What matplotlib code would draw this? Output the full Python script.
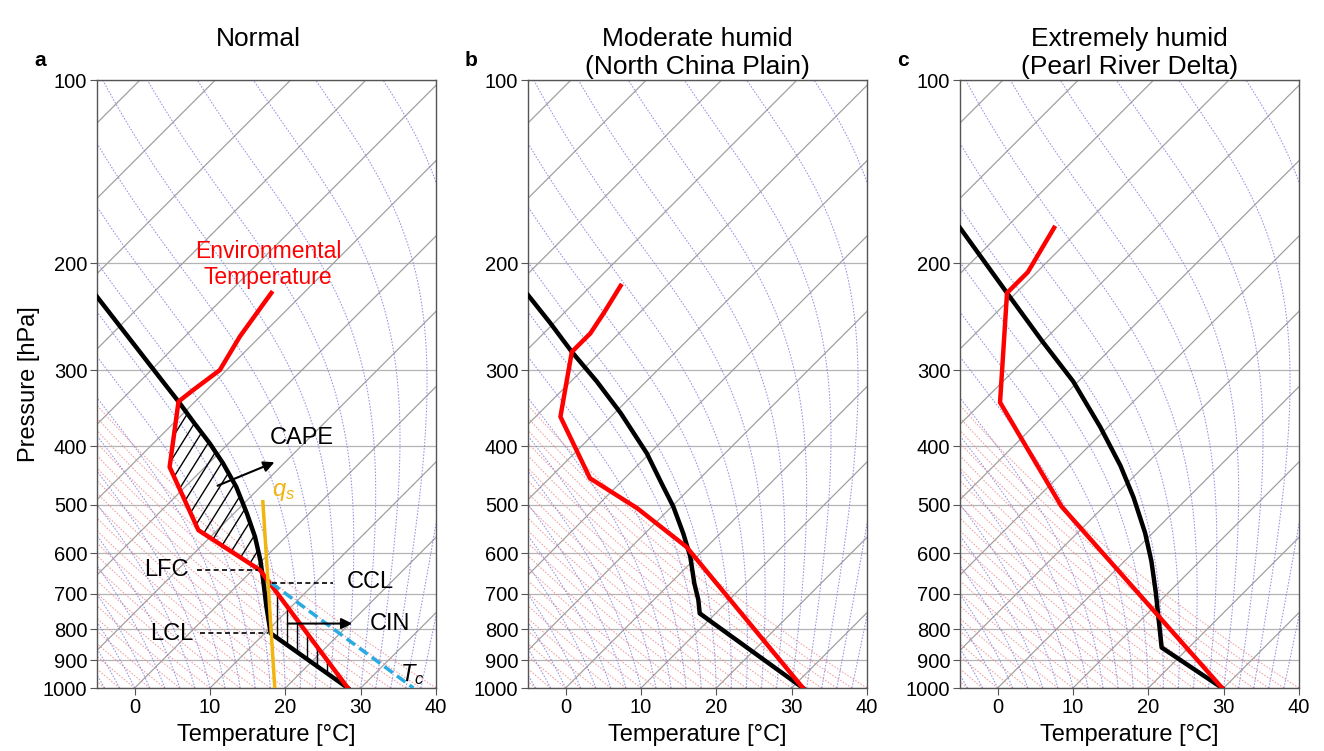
import matplotlib
matplotlib.use('Agg')
import matplotlib.pyplot as plt
import numpy as np
from matplotlib.patches import Polygon

plt.rcParams['font.family'] = ['Liberation Sans', 'DejaVu Sans']
plt.rcParams['mathtext.fontset'] = 'custom'
plt.rcParams['mathtext.it'] = 'Liberation Sans:italic'
plt.rcParams['mathtext.rm'] = 'Liberation Sans'

# soundings: pressure [hPa], temperature [degC]
a_env_p = [1000, 640, 550, 433, 338, 324, 300, 264, 224]
a_env_t = [28.3, 1.0, -12.5, -24.7, -32.2, -31.8, -30.9, -32.7, -34.3]
a_par_p = [1000, 813, 735, 664, 616, 564, 516, 467, 427, 396, 367, 338, 311, 227]
a_par_t = [28.3, 10.8, 6.7, 2.7, -0.3, -4.1, -8.3, -13.2, -18.1, -22.5, -27.2, -32.2, -37.4, -57.0]

b_env_p = [1000, 586, 506, 452, 358, 280, 261, 242, 218]
b_env_t = [31.5, -2.7, -14.4, -24.6, -36.7, -43.8, -43.8, -44.7, -46.1]
b_par_p = [1000, 754, 716, 673, 608, 557, 503, 461, 411, 353, 313, 280, 251, 226]
b_par_t = [31.5, 7.9, 5.9, 3.2, -0.9, -4.9, -9.8, -14.4, -20.4, -29.2, -36.6, -43.8, -50.5, -57.1]

c_env_p = [1000, 503, 339, 224, 207, 175]
c_env_t = [29.8, -15.6, -37.6, -51.2, -51.2, -53.6]
c_par_p = [1000, 858, 766, 698, 619, 556, 486, 431, 372, 313, 269, 224, 175]
c_par_t = [29.8, 16.4, 12.0, 8.4, 3.6, -1.0, -7.25, -13.2, -21.05, -30.7, -40.1, -51.2, -66.1]

# special levels of panel a
lfc_p = 640
lcl_p = 813
ccl_p = 672
el_p = 338
qs_p = [1000, 494]
qs_t = [18.6, -7.7]
tc_p = [672, 1000]
tc_t = [4.2, 37.0]

levels = [100, 200, 300, 400, 500, 600, 700, 800, 900, 1000]
titles = ['Normal', 'Moderate humid\n(North China Plain)', 'Extremely humid\n(Pearl River Delta)']
letters = ['a', 'b', 'c']

Rd = 287.04
cp = 1005.7
Lv = 2.501e6
eps = 0.622


def skew(t, p, k):
	return np.asarray(t, dtype=float) + k * np.log10(1000.0 / np.asarray(p, dtype=float))


def dTdp(T, p):
	es = 6.112 * np.exp(17.67 * (T - 273.15) / (T - 29.65))
	rs = eps * es / (p - es)
	return (Rd * T + Lv * rs) / (cp + Lv * Lv * rs * eps / (Rd * T * T)) / p


def moist_adiabats(t0, p):
	T = np.asarray(t0, dtype=float) + 273.15
	out = [T.copy()]
	for i in range(len(p) - 1):
		h = p[i + 1] - p[i]
		k1 = dTdp(T, p[i])
		k2 = dTdp(T + h * k1 / 2, p[i] + h / 2)
		k3 = dTdp(T + h * k2 / 2, p[i] + h / 2)
		k4 = dTdp(T + h * k3, p[i + 1])
		T = T + h / 6 * (k1 + 2 * k2 + 2 * k3 + k4)
		out.append(T.copy())
	return np.array(out) - 273.15


def draw_background(ax, k):
	p = np.logspace(3, 2, 200)
	for t0 in range(-130, 50, 10):
		ax.plot(skew(np.full_like(p, t0), p, k), p, color='#a0a0a0', lw=0.9, zorder=1)
	theta = np.arange(-100, 41, 2) + 273.15
	dry = theta[None, :] * (p[:, None] / 1000.0) ** 0.2857 - 273.15
	ax.plot(dry + k * np.log10(1000.0 / p)[:, None], p, color='#f08c8c', lw=0.75, ls=(0, (1.5, 1.5)), alpha=0.85, zorder=1)
	moist = moist_adiabats(np.arange(-40, 41, 2), p)
	ax.plot(moist + k * np.log10(1000.0 / p)[:, None], p, color='#8080e0', lw=0.75, ls=(0, (1.5, 1.5)), alpha=0.85, zorder=1)


def hatch_region(ax, xs, ps, slope, spacing, w_px, h_px):
	poly = Polygon(np.column_stack([xs, ps]), closed=True, facecolor='none', edgecolor='none')
	ax.add_patch(poly)
	if slope is None:
		for c in np.arange(0, 1, spacing / w_px):
			ln, = ax.plot([c, c], [0, 1], transform=ax.transAxes, color='black', lw=1.0, zorder=2)
			ln.set_clip_path(poly)
	else:
		dx = h_px / slope / w_px
		for c in np.arange(-dx, 1, spacing / w_px):
			ln, = ax.plot([c, c + dx], [0, 1], transform=ax.transAxes, color='black', lw=1.0, zorder=2)
			ln.set_clip_path(poly)


fig = plt.figure(figsize=(13.24, 7.51), dpi=100)
W, H = 1324.0, 751.0
lefts = [97, 528, 960]
w_px, h_px = 339.0, 608.0
k = 45.0 * h_px / w_px

data = [(a_env_p, a_env_t, a_par_p, a_par_t), (b_env_p, b_env_t, b_par_p, b_par_t), (c_env_p, c_env_t, c_par_p, c_par_t)]

axes = []
for i in range(3):
	ax = fig.add_axes([lefts[i] / W, 63 / H, w_px / W, h_px / H])
	axes.append(ax)
	ax.set_yscale('log')
	draw_background(ax, k)
	ep, et, pp, pt = data[i]
	ax.plot(skew(pt, pp, k), pp, color='black', lw=3.2, zorder=4, solid_joinstyle='round')
	ax.plot(skew(et, ep, k), ep, color='#ff0000', lw=3.2, zorder=5, solid_joinstyle='round')
	ax.set_xlim(-5, 40)
	ax.set_ylim(1000, 100)
	ax.set_yticks(levels, [str(v) for v in levels])
	ax.yaxis.set_minor_locator(matplotlib.ticker.NullLocator())
	ax.set_xticks([0, 10, 20, 30, 40])
	ax.yaxis.grid(True, color='#b4b4b4', lw=0.9, zorder=1)
	ax.set_axisbelow(True)
	ax.tick_params(labelsize=14.5, length=5, color='#555555', pad=2)
	for s in ax.spines.values():
		s.set_color('#555555')
		s.set_linewidth(1.0)
	ax.set_xlabel('Temperature [°C]', fontsize=17, labelpad=5)
	cx = (lefts[i] + w_px / 2) / W
	fig.text(cx - (8 / W if i == 0 else 0), 1 - 27 / H, titles[i], ha='center', va='top', fontsize=19, linespacing=1.2)
	fig.text((lefts[i] - 57) / W, 1 - 60 / H, letters[i], ha='center', va='center', fontsize=15, fontweight='bold')

axes[0].set_ylabel('Pressure [hPa]', fontsize=17, labelpad=2)

# panel a annotations
ax = axes[0]
par_at = lambda p: np.interp(np.log(p), np.log(a_par_p)[::-1], np.asarray(a_par_t)[::-1])
env_at = lambda p: np.interp(np.log(p), np.log(a_env_p)[::-1], np.asarray(a_env_t)[::-1])

cape_env = [p for p in a_env_p if el_p <= p <= lfc_p]
cape_par = [lfc_p] + [p for p in a_par_p if el_p <= p < lfc_p]
cape_x = list(skew([env_at(p) for p in cape_env], cape_env, k)) + list(skew([par_at(p) for p in cape_par[::-1]], cape_par[::-1], k))
cape_y = cape_env + cape_par[::-1]
hatch_region(ax, cape_x, cape_y, 1.6, 13.0, w_px, h_px)

cin_env = [1000, lfc_p]
cin_par = [p for p in a_par_p if p > lfc_p]
cin_x = list(skew([env_at(p) for p in cin_env], cin_env, k)) + list(skew([par_at(p) for p in cin_par[::-1]], cin_par[::-1], k))
cin_y = cin_env + cin_par[::-1]
hatch_region(ax, cin_x, cin_y, None, 10.0, w_px, h_px)

ax.plot(skew(qs_t, qs_p, k), qs_p, color='#f2b50f', lw=2.5, zorder=6)
ax.plot(skew(tc_t, tc_p, k), tc_p, color='#29abe2', lw=2.5, ls=(0, (3, 1.5)), zorder=6)

yt = ax.get_yaxis_transform()
ax.plot([0.295, 0.475], [lfc_p, lfc_p], transform=yt, color='black', lw=1.2, ls=(0, (3, 2)), zorder=6)
ax.plot([0.304, 0.504], [lcl_p, lcl_p], transform=yt, color='black', lw=1.2, ls=(0, (3, 2)), zorder=6)
ax.plot([0.516, 0.696], [ccl_p, ccl_p], transform=yt, color='black', lw=1.2, ls=(0, (3, 2)), zorder=6)

ax.text(0.204, 0.194, 'LFC', transform=ax.transAxes, ha='center', va='center', fontsize=17)
ax.text(0.221, 0.089, 'LCL', transform=ax.transAxes, ha='center', va='center', fontsize=17)
ax.text(0.805, 0.174, 'CCL', transform=ax.transAxes, ha='center', va='center', fontsize=17)
ax.text(0.864, 0.105, 'CIN', transform=ax.transAxes, ha='center', va='center', fontsize=17)
ax.text(0.605, 0.411, 'CAPE', transform=ax.transAxes, ha='center', va='center', fontsize=17)
ax.text(0.504, 0.697, 'Environmental\nTemperature', transform=ax.transAxes, ha='center', va='center', fontsize=16.5, color='#ff0000', linespacing=1.15)
ax.text(0.549, 0.322, r'$q_s$', transform=ax.transAxes, ha='center', va='center', fontsize=17, color='#f2b50f')
ax.text(0.93, 0.022, r'$T_c$', transform=ax.transAxes, ha='center', va='center', fontsize=17)

ax.annotate('', xy=(0.531, 0.373), xytext=(0.348, 0.331), xycoords='axes fraction',
			arrowprops=dict(arrowstyle='-|>', color='black', lw=1.5, mutation_scale=16), zorder=7)
ax.annotate('', xy=(0.761, 0.106), xytext=(0.555, 0.106), xycoords='axes fraction',
			arrowprops=dict(arrowstyle='-|>', color='black', lw=1.5, mutation_scale=16), zorder=7)

fig.savefig('out.png', dpi=100)
